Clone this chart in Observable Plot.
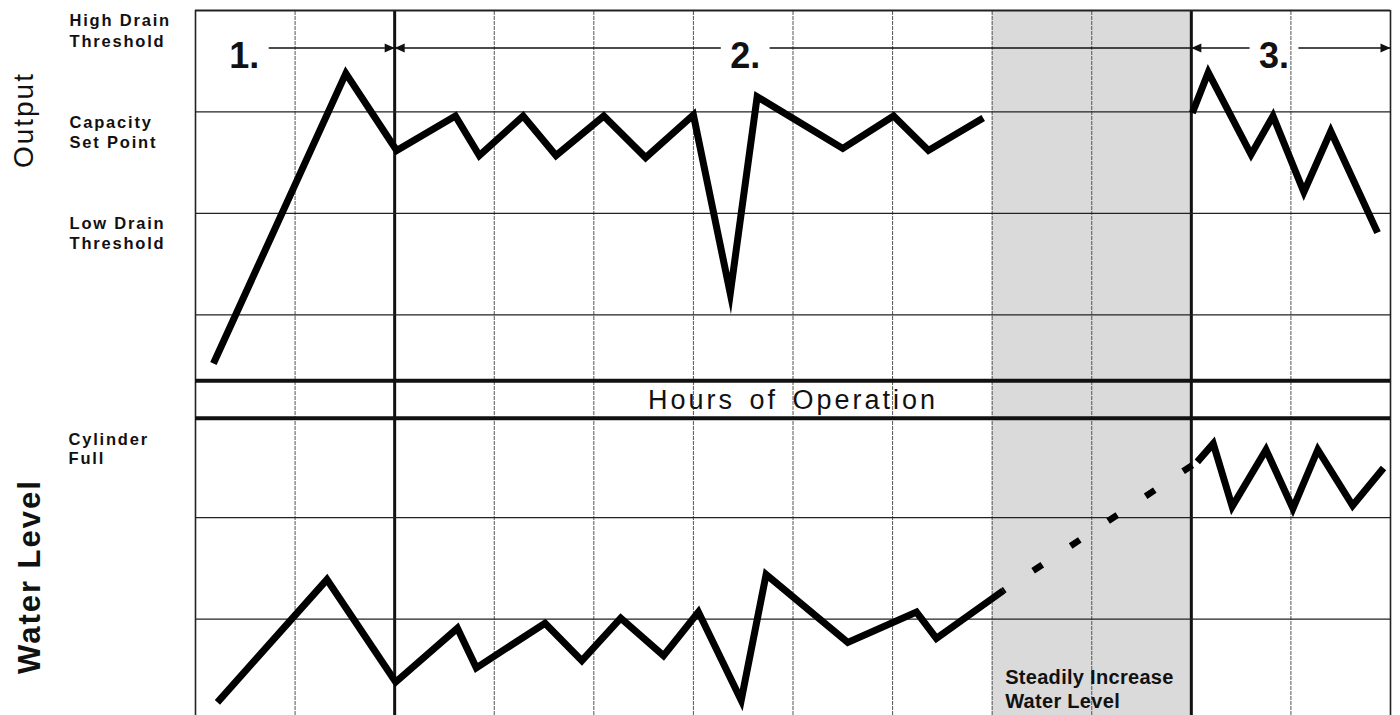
<!DOCTYPE html>
<html>
<head>
<meta charset="utf-8">
<script src="https://cdn.jsdelivr.net/npm/d3@7"></script>
<script src="https://cdn.jsdelivr.net/npm/@observablehq/plot@0.6"></script>
<style>
  html, body { margin: 0; padding: 0; background: #fff; }
  #chart svg { display: block; }
</style>
</head>
<body>
<div id="chart"></div>
<script>
// ---------- data ----------
const hourTicks = [0, 1, 2, 3, 4, 5, 6, 7, 8, 9, 10, 11, 12];
const phaseBounds = [2, 10];
const phases = ["1.", "2.", "3."];
const phaseStart = [0, 2, 10];
const phaseEnd = [2, 10, 12];
const phaseLabelX = [0.49, 5.52, 10.83];
const phaseLeftHead = [false, true, true];
const phaseRightHead = [true, false, true];
const steadyHours = [8, 10];
const steadyNote = "Steadily Increase\nWater Level";
const hoursTitle = "Hours of Operation";
const outputTitle = "Output";
const waterTitle = "Water Level";

// Output panel (levels: 3 = High Drain, 2 = Capacity Set Point, 1 = Low Drain)
const outputGrid = [2, 1, 0];
const outputLabelLevels = [3, 2, 1];
const outputLabels = ["High Drain\nThreshold", "Capacity\nSet Point", "Low Drain\nThreshold"];
const outputHoursA = [0.18, 1.51, 2.02, 2.61, 2.85, 3.29, 3.62, 4.10, 4.52, 5.00, 5.37, 5.64, 6.50, 7.01, 7.36, 7.91];
const outputValuesA = [-0.48, 2.38, 1.62, 1.96, 1.57, 1.96, 1.57, 1.96, 1.55, 1.97, 0.21, 2.15, 1.64, 1.96, 1.62, 1.94];
const outputHoursB = [10.01, 10.17, 10.60, 10.82, 11.13, 11.40, 11.87];
const outputValuesB = [1.99, 2.39, 1.58, 1.96, 1.21, 1.81, 0.81];

// Water level panel (levels: 3 = Cylinder Full)
const waterGrid = [2, 1];
const waterLabelLevels = [3];
const waterLabels = ["Cylinder\nFull"];
const waterHoursA = [0.22, 1.32, 2.01, 2.63, 2.82, 3.51, 3.88, 4.27, 4.70, 5.05, 5.48, 5.73, 6.55, 7.24, 7.44, 8.11];
const waterValuesA = [0.18, 1.39, 0.38, 0.91, 0.52, 0.96, 0.59, 1.01, 0.64, 1.07, 0.20, 1.44, 0.77, 1.07, 0.81, 1.28];
const waterHoursDashed = [8.11, 10.06];
const waterValuesDashed = [1.28, 2.55];
const waterHoursB = [10.06, 10.22, 10.41, 10.75, 11.02, 11.27, 11.62, 11.93];
const waterValuesB = [2.55, 2.73, 2.11, 2.67, 2.09, 2.67, 2.12, 2.49];

// layout of the stacked panels in one y scale (rows)
const OUT = 4;              // output panel offset
const yDomain = [0.05, 7];
const xDomain = [0, 12];
const hoursBand = [2.98, 3.35];
const arrowRow = 6.63;

// ---------- tables ----------
const toRows = (hs, vs, off = 0) => hs.map((h, i) => ({h, v: vs[i] + off}));
const outA = toRows(outputHoursA, outputValuesA, OUT);
const outB = toRows(outputHoursB, outputValuesB, OUT);
const watA = toRows(waterHoursA, waterValuesA);
const watD = toRows(waterHoursDashed, waterValuesDashed);
const watB = toRows(waterHoursB, waterValuesB);

const arrowPieces = [];
const leftHeads = [], rightHeads = [];
const gap = 0.245;
phases.forEach((p, i) => {
  if (phaseLeftHead[i]) {
    arrowPieces.push({x1: phaseStart[i], x2: phaseLabelX[i] - gap});
    leftHeads.push({x: phaseStart[i]});
  }
  arrowPieces.push({x1: phaseLabelX[i] + gap, x2: phaseEnd[i]});
  if (phaseRightHead[i]) rightHeads.push({x: phaseEnd[i]});
});

const triRight = {draw(ctx) { ctx.moveTo(0, 0); ctx.lineTo(-10, -4.5); ctx.lineTo(-10, 4.5); ctx.closePath(); }};
const triLeft = {draw(ctx) { ctx.moveTo(0, 0); ctx.lineTo(10, -4.5); ctx.lineTo(10, 4.5); ctx.closePath(); }};

const thinX = hourTicks.filter(t => t !== xDomain[0] && t !== xDomain[1] && !phaseBounds.includes(t));
const lineStyle = {x: "h", y: "v", stroke: "black", strokeWidth: 7, strokeLinejoin: "miter", strokeMiterlimit: 12, strokeLinecap: "butt"};
const font = "'Liberation Sans', Arial, Helvetica, sans-serif";

const chart = Plot.plot({
  width: 1400,
  height: 715,
  marginLeft: 195,
  marginRight: 10,
  marginTop: 10,
  marginBottom: 0,
  x: {domain: xDomain, axis: null},
  y: {domain: yDomain, axis: null},
  style: {fontFamily: font, background: "white", color: "black"},
  marks: [
    // shaded "steadily increase" period
    Plot.rect([{x1: steadyHours[0], x2: steadyHours[1]}], {x1: "x1", x2: "x2", y1: yDomain[0], y2: yDomain[1], fill: "#dadada"}),
    // vertical grid
    Plot.ruleX(thinX, {y1: yDomain[0], y2: yDomain[1], stroke: "#555", strokeWidth: 1, strokeDasharray: "4,1"}),
    Plot.ruleX([xDomain[0], xDomain[1]], {y1: yDomain[0], y2: yDomain[1], stroke: "#222", strokeWidth: 1.6}),
    Plot.ruleX(phaseBounds, {y1: yDomain[0], y2: yDomain[1], stroke: "#111", strokeWidth: 3}),
    // horizontal grid
    Plot.ruleY(outputGrid.map(v => v + OUT), {stroke: "#222", strokeWidth: 1.3}),
    Plot.ruleY(waterGrid, {stroke: "#222", strokeWidth: 1.3}),
    Plot.ruleY([yDomain[1]], {stroke: "#222", strokeWidth: 2}),
    Plot.ruleY(hoursBand, {stroke: "#111", strokeWidth: 4}),
    // phase arrows
    Plot.link(arrowPieces, {x1: "x1", x2: "x2", y1: arrowRow, y2: arrowRow, stroke: "#111", strokeWidth: 1.6}),
    Plot.dot(rightHeads, {x: "x", y: arrowRow, symbol: triRight, fill: "#111", stroke: "none", r: 4}),
    Plot.dot(leftHeads, {x: "x", y: arrowRow, symbol: triLeft, fill: "#111", stroke: "none", r: 4}),
    Plot.text(phases, {x: (d, i) => phaseLabelX[i], y: arrowRow, text: d => d, dy: 8, fontSize: 36, fontWeight: "bold", fill: "#111"}),
    // series
    Plot.line(outA, lineStyle),
    Plot.line(outB, lineStyle),
    Plot.line(watA, lineStyle),
    Plot.line(watD, {...lineStyle, strokeWidth: 6.5, strokeDasharray: "11,34", strokeDashoffset: 9}),
    Plot.line(watB, lineStyle),
    // band title
    Plot.text([hoursTitle], {x: (xDomain[0] + xDomain[1]) / 2, y: (hoursBand[0] + hoursBand[1]) / 2, text: d => d, dy: 1, fontSize: 27, fill: "#111"}),
    // note in shaded area
    Plot.text([steadyNote], {x: steadyHours[0], y: yDomain[0], text: d => d, dx: 13, dy: -8, textAnchor: "start", lineAnchor: "bottom", lineHeight: 1.2, fontSize: 20, fontWeight: "bold", fill: "#111"}),
    // level labels
    Plot.text(outputLabels, {y: (d, i) => outputLabelLevels[i] + OUT, text: d => d, frameAnchor: "left", dx: -126, dy: 36, textAnchor: "start", lineAnchor: "bottom", lineHeight: 1.22, fontSize: 16.5, fontWeight: "bold", fill: "#111"}),
    Plot.text(waterLabels, {y: (d, i) => waterLabelLevels[i], text: d => d, frameAnchor: "left", dx: -127, dy: 48, textAnchor: "start", lineAnchor: "bottom", lineHeight: 1.18, fontSize: 16.5, fontWeight: "bold", fill: "#111"}),
    // panel titles
    Plot.text([outputTitle], {y: OUT + 1.92, text: d => d, frameAnchor: "left", dx: -171, rotate: -90, textAnchor: "middle", lineAnchor: "middle", fontSize: 28, fill: "#111"}),
    Plot.text([waterTitle], {y: 1.42, text: d => d, frameAnchor: "left", dx: -165, rotate: -90, textAnchor: "middle", lineAnchor: "middle", fontSize: 31, fontWeight: "bold", fill: "#111"})
  ]
});

// letter spacing to match the typeset look of the original
const spacing = new Map();
outputLabels.concat(waterLabels).forEach(t => spacing.set(t.replace("\n", ""), "1.8px"));
spacing.set(outputTitle, "2px");
spacing.set(waterTitle, "2px");
spacing.set(hoursTitle, "3px");
spacing.set(steadyNote.replace("\n", ""), "0.3px");
d3.select(chart).selectAll("text").each(function () {
  const s = spacing.get(this.textContent);
  if (s) {
    this.style.letterSpacing = s;
    if (this.textContent === hoursTitle) this.style.wordSpacing = "4px";
  }
});

document.getElementById("chart").appendChild(chart);
</script>
</body>
</html>
